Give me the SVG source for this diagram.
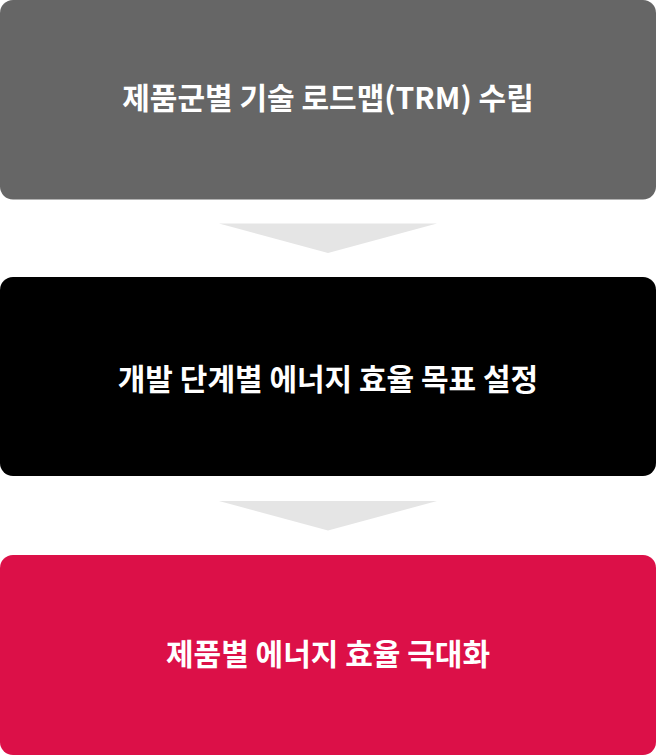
<svg xmlns="http://www.w3.org/2000/svg" width="656" height="755" viewBox="0 0 656 755">
<style>
.lbl{font-family:"Noto Sans CJK KR","Noto Sans",sans-serif;font-weight:700;font-size:30px;fill:#ffffff;text-anchor:middle}
.arr{fill:#e5e5e5}
</style>
<rect width="656" height="755" fill="#ffffff"/>
<g id="connectors">
<polygon class="arr" points="219,223.5 437,223.5 328,253"/>
<polygon class="arr" points="219,501 437,501 328,530.5"/>
</g>
<g id="node1">
<rect x="0" y="0" width="656" height="199.5" rx="13" fill="#666666"/>
<text class="lbl" x="328" y="109">제품군별 기술 로드맵(TRM) 수립</text>
</g>
<g id="node2">
<rect x="0" y="277" width="656" height="199" rx="13" fill="#000000"/>
<text class="lbl" x="328" y="390">개발 단계별 에너지 효율 목표 설정</text>
</g>
<g id="node3">
<rect x="0" y="555" width="656" height="200" rx="13" fill="#dc1048"/>
<text class="lbl" x="328" y="665">제품별 에너지 효율 극대화</text>
</g>
</svg>
